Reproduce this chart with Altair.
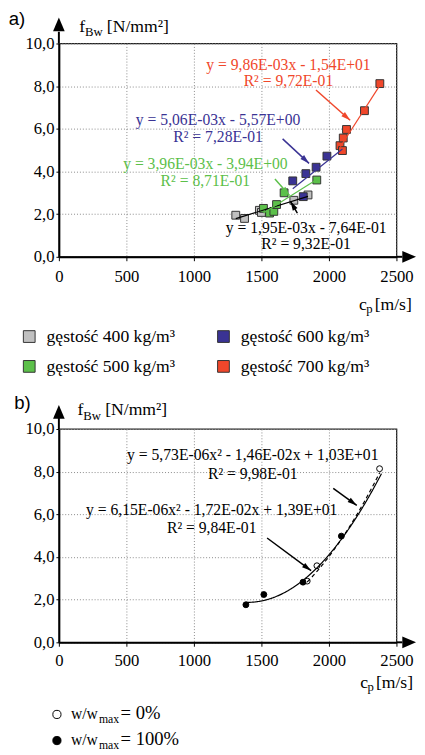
import math
import altair as alt
import pandas as pd

SERIF = "Liberation Serif, Times New Roman, Times, serif"
SANS = "Liberation Sans, Arial, Helvetica, sans-serif"
W, H = 345, 218

# ---------------- panel a) data ----------------
series = ["gęstość 400 kg/m³", "gęstość 500 kg/m³", "gęstość 600 kg/m³", "gęstość 700 kg/m³"]
fill_colors = ["#c0c0c0", "#5cc04a", "#3a3394", "#f0472b"]
line_colors = ["#000000", "#5cc04a", "#3a3394", "#f0472b"]

cp_400 = [1310, 1375, 1485, 1500, 1740, 1845]
fb_400 = [1.95, 1.80, 2.18, 2.08, 2.65, 2.90]
cp_500 = [1515, 1560, 1592, 1612, 1668, 1910]
fb_500 = [2.27, 2.05, 2.13, 2.45, 3.00, 3.60]
cp_600 = [1732, 1810, 1829, 1905, 1985]
fb_600 = [3.56, 2.82, 3.90, 4.20, 4.72]
cp_700 = [2082, 2100, 2106, 2130, 2263, 2377]
fb_700 = [5.21, 4.98, 5.57, 5.97, 6.85, 8.12]

slopes = [1.95e-3, 3.96e-3, 5.06e-3, 9.86e-3]
intercepts = [-0.764, -3.94, -5.57, -15.4]
fit_from = [1310, 1515, 1732, 2085]
fit_to = [1845, 1910, 2100, 2377]

eq_a = ["y = 1,95E-03x - 7,64E-01", "y = 3,96E-03x - 3,94E+00",
        "y = 5,06E-03x - 5,57E+00", "y = 9,86E-03x - 1,54E+01"]
r2_a = ["R² = 9,32E-01", "R² = 8,71E-01", "R² = 7,28E-01", "R² = 9,72E-01"]

# annotation layout (data coordinates)
lab_x_a = [1831, 1085, 1179, 1700]
lab_y1_a = [1.13, 4.11, 6.17, 8.78]
lab_y2_a = [0.35, 3.33, 5.39, 8.00]
arr_a = [(1766, 2.05, 1715, 2.60), (1600, 3.65, 1708, 2.87),
         (1657, 5.53, 1853, 4.38), (1904, 7.82, 2157, 6.40)]

# legend layout for panel a) (pixels, relative to plot origin): order 400, 500, 600, 700
leg_col_x = [-30.3, -30.3, 168.2, 168.2]
leg_row_y = [299.5, 330.0, 299.5, 330.0]

# ---------------- panel b) data ----------------
cp_dry = [1839, 1911, 2375]
fb_dry = [2.87, 3.59, 8.14]
cp_wet = [1385, 1518, 1808, 2092]
fb_wet = [1.76, 2.24, 2.82, 4.98]

quad_dry = (5.73e-6, -1.46e-2, 10.3)
quad_wet = (6.15e-6, -1.72e-2, 13.9)
eq_b = ["y = 5,73E-06x² - 1,46E-02x + 1,03E+01", "R² = 9,98E-01",
        "y = 6,15E-06x² - 1,72E-02x + 1,39E+01", "R² = 9,84E-01"]
lab_x_b = [1436, 1436, 1132, 1132]
lab_y_b = [8.55, 7.67, 5.96, 5.12]
arr_b = [(2032, 7.22, 2206, 6.42), (1542, 4.89, 1868, 3.36)]

x_ticks = [0, 500, 1000, 1500, 2000, 2500]
y_ticks = [0, 2, 4, 6, 8, 10]

ARROW = "M0,0L-0.55,1.9L0.55,1.9Z"
UP = "M0,-1L0.85,1L-0.85,1Z"
RIGHT = "M1,0L-1,0.85L-1,-0.85Z"


def ang(x1, y1, x2, y2):
    dx = (x2 - x1) * W / 2500
    dy = -(y2 - y1) * H / 10
    return (math.degrees(math.atan2(dx, -dy)) + 360) % 360


def enc_xy(lab_pad):
    X = alt.X("x:Q", scale=alt.Scale(domain=[0, 2500], nice=False),
              axis=alt.Axis(values=x_ticks, format="d", title=None, labelFlush=False,
                            labelPadding=lab_pad, tickSize=4, tickColor="black",
                            domainColor="black", domainWidth=2, grid=True,
                            gridColor="#888", gridDash=[1, 2], gridWidth=1,
                            labelFont=SERIF, labelFontSize=17, labelColor="black"))
    Y = alt.Y("y:Q", scale=alt.Scale(domain=[0, 10], nice=False),
              axis=alt.Axis(values=y_ticks, title=None,
                            labelExpr="replace(format(datum.value, '.1f'), '.', ',')",
                            labelPadding=2, tickSize=3, tickColor="black",
                            domainColor="black", domainWidth=2, grid=True,
                            gridColor="#888", gridDash=[1, 2], gridWidth=1,
                            labelFont=SERIF, labelFontSize=17, labelColor="black"))
    return X, Y


one = pd.DataFrame({"k": [0]})


def txt(text, x, y, size, font=SERIF, color="black", align="left"):
    return alt.Chart(one).mark_text(text=text, font=font, fontSize=size, align=align,
                                    baseline="alphabetic", color=color).encode(
        x=alt.value(x), y=alt.value(y))


def decorations(label, lab_dx, lab_base, ytit, xtit, arrow_c):
    layers = [txt(label, lab_dx, lab_base, 19, font=SANS)]
    fx, fy = ytit
    layers += [txt("f", fx, fy, 18), txt("Bw", fx + 6, fy + 4.7, 13), txt("[N/mm²]", fx + 28.3, fy, 18)]
    cx, cy = xtit
    layers += [txt("c", cx, H + cy, 18), txt("p", cx + 7.5, H + cy + 3.5, 13), txt("[m/s]", cx + 16, H + cy, 18)]
    layers.append(alt.Chart(one).mark_rule(color="black", strokeWidth=2)
                  .encode(x=alt.value(0), y=alt.value(0), y2=alt.value(-12)))
    layers.append(alt.Chart(one).mark_point(shape=UP, size=196, filled=True, color="black", opacity=1)
                  .encode(x=alt.value(0), y=alt.value(arrow_c)))
    layers.append(alt.Chart(one).mark_rule(color="black", strokeWidth=2)
                  .encode(x=alt.value(W), x2=alt.value(W + 6), y=alt.value(H)))
    layers.append(alt.Chart(one).mark_point(shape=RIGHT, size=196, filled=True, color="black", opacity=1)
                  .encode(x=alt.value(W + 13), y=alt.value(H)))
    return layers


# ---------------- panel a) chart ----------------
X, Y = enc_xy(8)
pts = []
for s, xs, ys in zip(series, [cp_400, cp_500, cp_600, cp_700], [fb_400, fb_500, fb_600, fb_700]):
    for xv, yv in zip(xs, ys):
        pts.append({"x": xv, "y": yv, "series": s})
pts_a = pd.DataFrame(pts)

fit_rows = []
for s, lc, m, b, x0, x1 in zip(series, line_colors, slopes, intercepts, fit_from, fit_to):
    for xv in (x0, x1):
        fit_rows.append({"series": s, "lc": lc, "m": m, "b": b, "x": xv})
fit_a = pd.DataFrame(fit_rows)

txt_rows = []
for e, r, lx, y1, y2, tc in zip(eq_a, r2_a, lab_x_a, lab_y1_a, lab_y2_a, line_colors):
    txt_rows.append({"t": e, "x": lx, "y": y1, "c": tc})
    txt_rows.append({"t": r, "x": lx, "y": y2, "c": tc})
txt_a = pd.DataFrame(txt_rows)

arr_df_a = pd.DataFrame([{"x": a[0], "y": a[1], "x2": a[2], "y2": a[3], "c": c, "ang": ang(*a)}
                         for a, c in zip(arr_a, line_colors)])

points_a = alt.Chart(pts_a).mark_square(size=64, stroke="#333", strokeWidth=1, opacity=1).encode(
    x=X, y=Y,
    color=alt.Color("series:N", scale=alt.Scale(domain=series, range=fill_colors), legend=None))
lines_a = alt.Chart(fit_a).transform_calculate(y="datum.m * datum.x + datum.b").mark_line(strokeWidth=1.2).encode(
    x="x:Q", y="y:Q", detail="series:N", stroke=alt.Stroke("lc:N", scale=None))
text_a = alt.Chart(txt_a).mark_text(font=SERIF, fontSize=16, align="center", baseline="alphabetic").encode(
    x="x:Q", y="y:Q", text="t:N", fill=alt.Fill("c:N", scale=None))
rules_a = alt.Chart(arr_df_a).mark_rule(strokeWidth=1.5).encode(
    x="x:Q", y="y:Q", x2="x2:Q", y2="y2:Q", stroke=alt.Stroke("c:N", scale=None))
heads_a = alt.Chart(arr_df_a).mark_point(shape=ARROW, size=100, filled=True, opacity=1, strokeWidth=0).encode(
    x="x2:Q", y="y2:Q", angle=alt.Angle("ang:Q", scale=None), fill=alt.Fill("c:N", scale=None))

legend_a = []
for s, fc, lx, ly in zip(series, fill_colors, leg_col_x, leg_row_y):
    legend_a.append(alt.Chart(one).mark_point(shape="square", size=144, filled=True, fill=fc,
                                              stroke="#333", strokeWidth=1, opacity=1)
                    .encode(x=alt.value(lx), y=alt.value(ly)))
    legend_a.append(txt(s, lx + 17.7, ly + 6, 18))

top = alt.layer(points_a, lines_a, text_a, rules_a, heads_a, *legend_a,
                *decorations("a)", -51.3, -18.5, (20.7, -12), (306.7, 54), -19.5)).properties(width=W, height=H)

# ---------------- panel b) chart ----------------
Xb, Yb = enc_xy(7)
pts_b = pd.DataFrame(
    [{"x": xv, "y": yv, "fc": "white"} for xv, yv in zip(cp_dry, fb_dry)] +
    [{"x": xv, "y": yv, "fc": "black"} for xv, yv in zip(cp_wet, fb_wet)])

a_w, b_w, c_w = quad_wet
a_d, b_d, c_d = quad_dry
curve_wet = alt.Chart(alt.sequence(1385, 2392, 4, as_="x")).transform_calculate(
    y=f"{a_w}*datum.x*datum.x + {b_w}*datum.x + {c_w}").mark_line(color="black", strokeWidth=1.2).encode(
    x="x:Q", y="y:Q")
curve_dry = alt.Chart(alt.sequence(1839, 2377, 4, as_="x")).transform_calculate(
    y=f"{a_d}*datum.x*datum.x + {b_d}*datum.x + {c_d}").mark_line(color="black", strokeWidth=1.2,
                                                                   strokeDash=[4, 3]).encode(
    x="x:Q", y="y:Q")
points_b = alt.Chart(pts_b).mark_point(shape="circle", filled=True, size=36, stroke="black",
                                       strokeWidth=1, opacity=1).encode(
    x=Xb, y=Yb, fill=alt.Fill("fc:N", scale=None))
txt_b = pd.DataFrame({"t": eq_b, "x": lab_x_b, "y": lab_y_b})
text_b = alt.Chart(txt_b).mark_text(font=SERIF, fontSize=16, align="center", baseline="alphabetic",
                                    color="black").encode(x="x:Q", y="y:Q", text="t:N")
arr_df_b = pd.DataFrame([{"x": a[0], "y": a[1], "x2": a[2], "y2": a[3], "ang": ang(*a)} for a in arr_b])
rules_b = alt.Chart(arr_df_b).mark_rule(strokeWidth=1.5, color="black").encode(
    x="x:Q", y="y:Q", x2="x2:Q", y2="y2:Q")
heads_b = alt.Chart(arr_df_b).mark_point(shape=ARROW, size=100, filled=True, opacity=1, strokeWidth=0,
                                         color="black").encode(
    x="x2:Q", y="y2:Q", angle=alt.Angle("ang:Q", scale=None))

legend_b = [
    alt.Chart(one).mark_point(shape="circle", filled=True, size=70, stroke="black", strokeWidth=1,
                              fill="white", opacity=1).encode(x=alt.value(-2), y=alt.value(291.7)),
    alt.Chart(one).mark_point(shape="circle", filled=True, size=70, stroke="black", strokeWidth=1,
                              fill="black", opacity=1).encode(x=alt.value(-2), y=alt.value(318.4)),
]
for base, tail in [(296, "= 0%"), (322.7, "= 100%")]:
    legend_b += [txt("w/w", 12.3, base, 16), txt("max", 41, base + 4.7, 12), txt(tail, 63, base, 19)]

bottom = alt.layer(points_b, curve_wet, curve_dry, text_b, rules_b, heads_b, *legend_b,
                   *decorations("b)", -45.7, -20.6, (19, -14), (308, 46.3), -17.5)).properties(width=W, height=H)

chart = alt.vconcat(top, bottom, spacing=16,
                    padding={"top": -7, "left": 0, "right": 0, "bottom": 0}).configure_view(
    stroke="#222", strokeWidth=1.3)
chart.save("out.html", embed_options={"renderer": "svg", "actions": False})
